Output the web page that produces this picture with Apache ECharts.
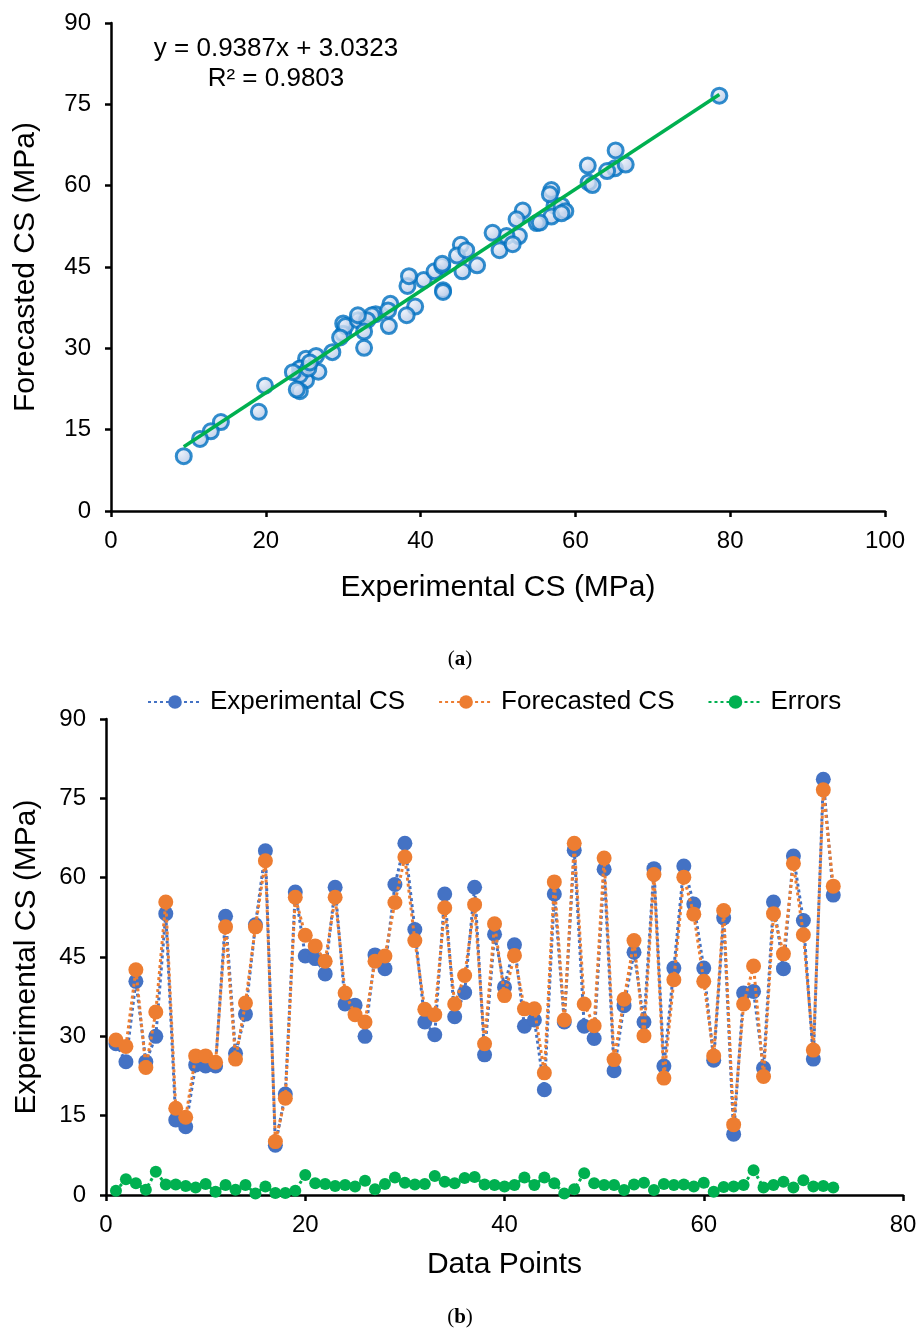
<!DOCTYPE html>
<html>
<head>
<meta charset="utf-8">
<script src="https://cdn.jsdelivr.net/npm/echarts@6/dist/echarts.min.js"></script>
<style>
html,body{margin:0;padding:0;background:#fff;}
#chart{width:921px;height:1336px;}
</style>
</head>
<body>
<div id="chart"></div>
<script>
// ---- Data ----
const expCS = [28.6, 25.2, 40.4, 25.2, 30.0, 53.2, 14.2, 12.9, 24.6, 24.4,
  24.4, 52.7, 26.8, 34.2, 51.1, 65.1, 9.4, 19.1, 57.3, 45.2,
  44.7, 41.8, 58.2, 36.1, 35.9, 30.0, 45.4, 42.8, 58.7, 66.5,
  50.2, 32.7, 30.3, 56.9, 33.7, 38.3, 58.2, 26.5, 49.3, 39.3,
  47.3, 31.9, 33.1, 19.9, 56.9, 32.7, 65.2, 31.9, 29.6, 61.6,
  23.5, 35.8, 45.9, 32.7, 61.7, 24.4, 42.9, 62.2, 55.0, 42.9,
  25.5, 52.4, 11.5, 38.2, 38.5, 24.0, 55.4, 42.8, 64.1, 51.9,
  25.7, 78.6, 56.7];
const foreCS = [29.3, 28.1, 42.6, 24.1, 34.6, 55.4, 16.4, 14.7, 26.3, 26.3,
  25.1, 50.7, 25.7, 36.3, 50.7, 63.2, 10.1, 18.3, 56.3, 49.1,
  47.1, 44.2, 56.3, 38.2, 34.1, 32.7, 44.2, 45.2, 55.3, 63.9,
  48.1, 35.1, 34.1, 54.3, 36.1, 41.5, 54.9, 28.6, 51.3, 37.7,
  45.3, 35.2, 35.2, 23.1, 59.2, 33.1, 66.5, 36.1, 32.0, 63.7,
  25.6, 37.0, 48.1, 30.1, 60.6, 22.1, 40.7, 60.1, 53.1, 40.4,
  26.3, 53.8, 13.3, 36.1, 43.3, 22.4, 53.2, 45.6, 62.7, 49.2,
  27.4, 76.6, 58.4];
const errors = [0.8, 3.0, 2.2, 1.0, 4.4, 2.0, 2.0, 1.7, 1.4, 2.1,
  0.6, 1.9, 1.0, 1.9, 0.3, 1.6, 0.4, 0.4, 0.8, 3.8,
  2.2, 2.1, 1.7, 1.9, 1.6, 2.7, 1.1, 2.1, 3.3, 2.3,
  2.0, 2.1, 3.6, 2.5, 2.2, 3.2, 3.4, 2.0, 1.9, 1.6,
  1.9, 3.3, 1.9, 3.3, 2.2, 0.3, 1.1, 4.1, 2.2, 1.9,
  1.9, 0.95, 2.0, 2.3, 0.95, 2.1, 1.9, 2.0, 1.6, 2.3,
  0.6, 1.5, 1.6, 1.9, 4.7, 1.4, 1.9, 2.5, 1.4, 2.8,
  1.6, 1.7, 1.4];
const trendSlope = 0.9387;
const trendIntercept = 3.0323;
const rSquared = 0.9803;
const seriesNames = ['Experimental CS', 'Forecasted CS', 'Errors'];
const yTicksA = [0, 15, 30, 45, 60, 75, 90];
const xTicksA = [0, 20, 40, 60, 80, 100];
const yTicksB = [0, 15, 30, 45, 60, 75, 90];
const xTicksB = [0, 20, 40, 60, 80];

// ---- Build ----
const FONT = '"Liberation Sans", Arial, sans-serif';
const scatterData = expCS.map((x, i) => [x, foreCS[i]]);
const xMin = Math.min(...expCS), xMax = Math.max(...expCS);
const trendData = [[xMin, trendSlope * xMin + trendIntercept], [xMax, trendSlope * xMax + trendIntercept]];
const idx = (arr) => arr.map((v, i) => [i + 1, v]);

const axisLine = { show: true, lineStyle: { color: '#000', width: 2.5 } };
const axisTick = { show: true, inside: false, length: 6, lineStyle: { color: '#000', width: 2.5 } };
const tickLabel = (m) => ({ color: '#000', fontSize: 24, fontFamily: FONT, margin: m });
const nameStyle = { color: '#000', fontSize: 30, fontFamily: FONT };

function valAxis(ticks, gridIndex, name, gap, labelMargin) {
  return {
    type: 'value', gridIndex: gridIndex,
    min: ticks[0], max: ticks[ticks.length - 1], interval: ticks[1] - ticks[0],
    name: name, nameLocation: 'middle', nameGap: gap, nameTextStyle: nameStyle,
    axisLine: axisLine, axisTick: axisTick, axisLabel: tickLabel(labelMargin),
    splitLine: { show: false }
  };
}

const dotted = (color) => ({ color: color, width: 3, type: [3, 3] });
const serifRich = {
  p: { fontFamily: '"Liberation Serif", serif', fontSize: 21, fill: '#000' },
  b: { fontFamily: '"Liberation Serif", serif', fontSize: 21, fontWeight: 'bold', fill: '#000' }
};

const option = {
  backgroundColor: '#fff',
  animation: false,
  grid: [
    { left: 111, top: 23, width: 774, height: 488 },
    { left: 106, top: 719, width: 797, height: 476 }
  ],
  xAxis: [
    valAxis(xTicksA, 0, 'Experimental CS (MPa)', 62, 18),
    valAxis(xTicksB, 1, 'Data Points', 55, 18)
  ],
  yAxis: [
    valAxis(yTicksA, 0, 'Forecasted CS (MPa)', 70, 20),
    valAxis(yTicksB, 1, 'Experimental CS (MPa)', 64, 20)
  ],
  legend: {
    data: seriesNames,
    left: 142, top: 684,
    itemWidth: 54, itemHeight: 17, itemGap: 33,
    textStyle: { color: '#000', fontSize: 26, fontFamily: FONT, padding: [0, 0, 0, 3] }
  },
  graphic: [
    { type: 'text', z: 10, position: [276, 36],
      style: { text: 'y = ' + trendSlope.toFixed(4) + 'x + ' + trendIntercept.toFixed(4), fill: '#000', font: '26px ' + FONT, textAlign: 'center' } },
    { type: 'text', z: 10, position: [276, 66],
      style: { text: 'R² = ' + rSquared.toFixed(4), fill: '#000', font: '26px ' + FONT, textAlign: 'center' } },
    { type: 'text', z: 10, position: [460, 649],
      style: { text: '{p|(}{b|a}{p|)}', textAlign: 'center', rich: serifRich } },
    { type: 'text', z: 10, position: [460, 1307],
      style: { text: '{p|(}{b|b}{p|)}', textAlign: 'center', rich: serifRich } }
  ],
  series: [
    {
      type: 'scatter', name: 'Forecast vs Experimental', xAxisIndex: 0, yAxisIndex: 0,
      data: scatterData, symbol: 'circle', symbolSize: 15, z: 2,
      itemStyle: {
        color: { type: 'radial', x: 0.35, y: 0.3, r: 0.8,
          colorStops: [{ offset: 0, color: '#e6edf8' }, { offset: 1, color: '#a5bde2' }] },
        borderColor: '#0070C0', borderWidth: 3
      }
    },
    {
      type: 'line', name: 'Trendline', xAxisIndex: 0, yAxisIndex: 0,
      data: trendData, showSymbol: false, symbol: 'none', z: 5,
      lineStyle: { color: '#00B050', width: 3.5 }
    },
    {
      type: 'line', name: seriesNames[0], xAxisIndex: 1, yAxisIndex: 1,
      data: idx(expCS), symbol: 'circle', symbolSize: 15, z: 2,
      lineStyle: dotted('#4472C4'), itemStyle: { color: '#4472C4' }
    },
    {
      type: 'line', name: seriesNames[1], xAxisIndex: 1, yAxisIndex: 1,
      data: idx(foreCS), symbol: 'circle', symbolSize: 15, z: 3,
      lineStyle: dotted('#ED7D31'), itemStyle: { color: '#ED7D31' }
    },
    {
      type: 'line', name: seriesNames[2], xAxisIndex: 1, yAxisIndex: 1,
      data: idx(errors), symbol: 'circle', symbolSize: 12, z: 4,
      lineStyle: dotted('#00B050'), itemStyle: { color: '#00B050' }
    }
  ]
};

const chart = echarts.init(document.getElementById('chart'), null, { renderer: 'canvas' });
chart.setOption(option);
</script>
</body>
</html>
